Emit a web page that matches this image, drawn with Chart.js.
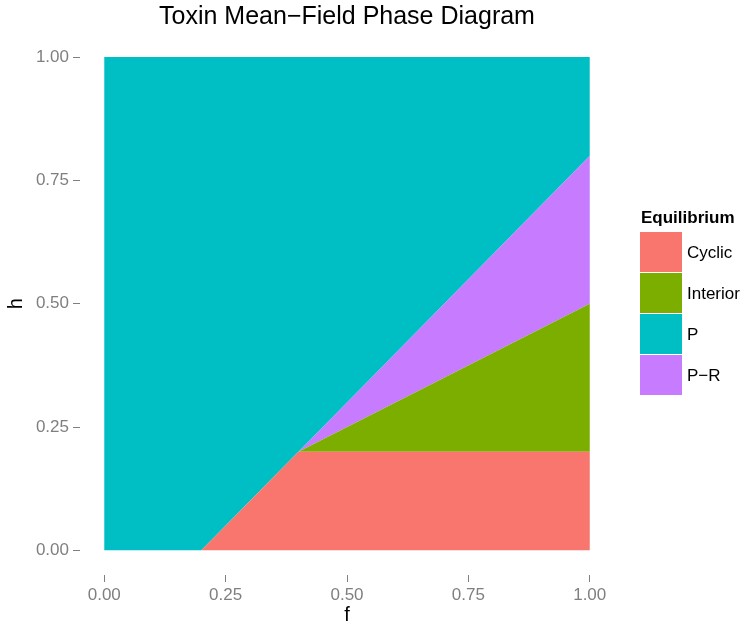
<!DOCTYPE html>
<html>
<head>
<meta charset="utf-8">
<title>Toxin Mean-Field Phase Diagram</title>
<script src="https://cdn.jsdelivr.net/npm/chart.js@4.4.1/dist/chart.umd.min.js"></script>
<style>
  html, body { margin: 0; padding: 0; background: #fff; }
  canvas { display: block; }
</style>
</head>
<body>
<canvas id="phase" width="745" height="623"></canvas>
<script>
// regions of the phase diagram, in legend order
const equilibria = ["Cyclic", "Interior", "P", "P\u2212R"];
const colours = ["#F8766D", "#7CAE00", "#00BFC4", "#C77CFF"];

// polygon corners (f, h) of each region
const cyclicF = [0.2, 1, 1, 0.4, 0.2];
const cyclicH = [0, 0, 0.2, 0.2, 0];
const interiorF = [0.4, 1, 1, 0.4];
const interiorH = [0.2, 0.2, 0.5, 0.2];
const pF = [0, 0.2, 0.4, 1, 1, 0, 0];
const pH = [0, 0, 0.2, 0.8, 1, 1, 0];
const prF = [0.4, 1, 1, 0.4];
const prH = [0.2, 0.5, 0.8, 0.2];

const fTicks = [0, 0.25, 0.5, 0.75, 1];
const hTicks = [0, 0.25, 0.5, 0.75, 1];

const regionF = [cyclicF, interiorF, pF, prF];
const regionH = [cyclicH, interiorH, pH, prH];

Chart.defaults.font.family = "'Liberation Sans', Arial, sans-serif";

const datasets = equilibria.map((name, i) => ({
  label: name,
  data: regionF[i].map((f, k) => ({ x: f, y: regionH[i][k] })),
  showLine: true,
  fill: "shape",
  backgroundColor: colours[i],
  borderColor: colours[i],
  borderWidth: 0,
  pointRadius: 0,
  tension: 0
}));

// ggplot style legend on the right
const legendBox = {
  id: "legendBox",
  afterDraw(chart) {
    const ctx = chart.ctx;
    ctx.save();
    ctx.fillStyle = "#000";
    ctx.font = "bold 17px 'Liberation Sans', Arial, sans-serif";
    ctx.textAlign = "left";
    ctx.textBaseline = "alphabetic";
    ctx.fillText("Equilibrium", 641, 223);
    ctx.font = "17px 'Liberation Sans', Arial, sans-serif";
    ctx.textBaseline = "middle";
    chart.data.datasets.forEach((ds, i) => {
      const y = 232 + i * 41;
      ctx.fillStyle = ds.backgroundColor;
      ctx.fillRect(640, y, 42, 40);
      ctx.fillStyle = "#000";
      ctx.fillText(ds.label, 687, y + 21);
    });
    ctx.restore();
  }
};

const axisStyle = (ticks) => ({
  type: "linear",
  min: -0.05,
  max: 1.05,
  afterBuildTicks: (scale) => { scale.ticks = ticks.map(v => ({ value: v })); },
  border: { display: false },
  grid: {
    display: true,
    drawOnChartArea: false,
    drawTicks: true,
    tickLength: 7,
    tickColor: "#7f7f7f",
    lineWidth: 1
  },
  ticks: {
    color: "#7f7f7f",
    font: { size: 17 },
    callback: (v) => Number(v).toFixed(2)
  }
});

const xAxis = axisStyle(fTicks);
xAxis.ticks.padding = 3;
xAxis.title = { display: true, text: "f", color: "#000", font: { size: 20, lineHeight: 0.8 }, padding: 0 };
xAxis.afterFit = (scale) => { scale.height = 48; };

const yAxis = axisStyle(hTicks);
yAxis.ticks.padding = 4;
yAxis.title = { display: true, text: "h", color: "#000", font: { size: 20, lineHeight: 1.2 }, padding: { top: 4, bottom: 0 } };
yAxis.afterFit = (scale) => { scale.width = 80; };

new Chart(document.getElementById("phase"), {
  type: "scatter",
  data: { datasets: datasets },
  options: {
    responsive: false,
    animation: false,
    events: [],
    layout: { padding: { left: 0, right: 131, top: 0, bottom: 0 } },
    scales: { x: xAxis, y: yAxis },
    plugins: {
      legend: { display: false },
      tooltip: { enabled: false },
      title: {
        display: true,
        fullSize: false,
        text: "Toxin Mean\u2212Field Phase Diagram",
        color: "#000",
        font: { size: 25, weight: "normal", lineHeight: 1.2 },
        padding: { top: 2.3, bottom: 0.1 }
      }
    }
  },
  plugins: [legendBox]
});
</script>
</body>
</html>
